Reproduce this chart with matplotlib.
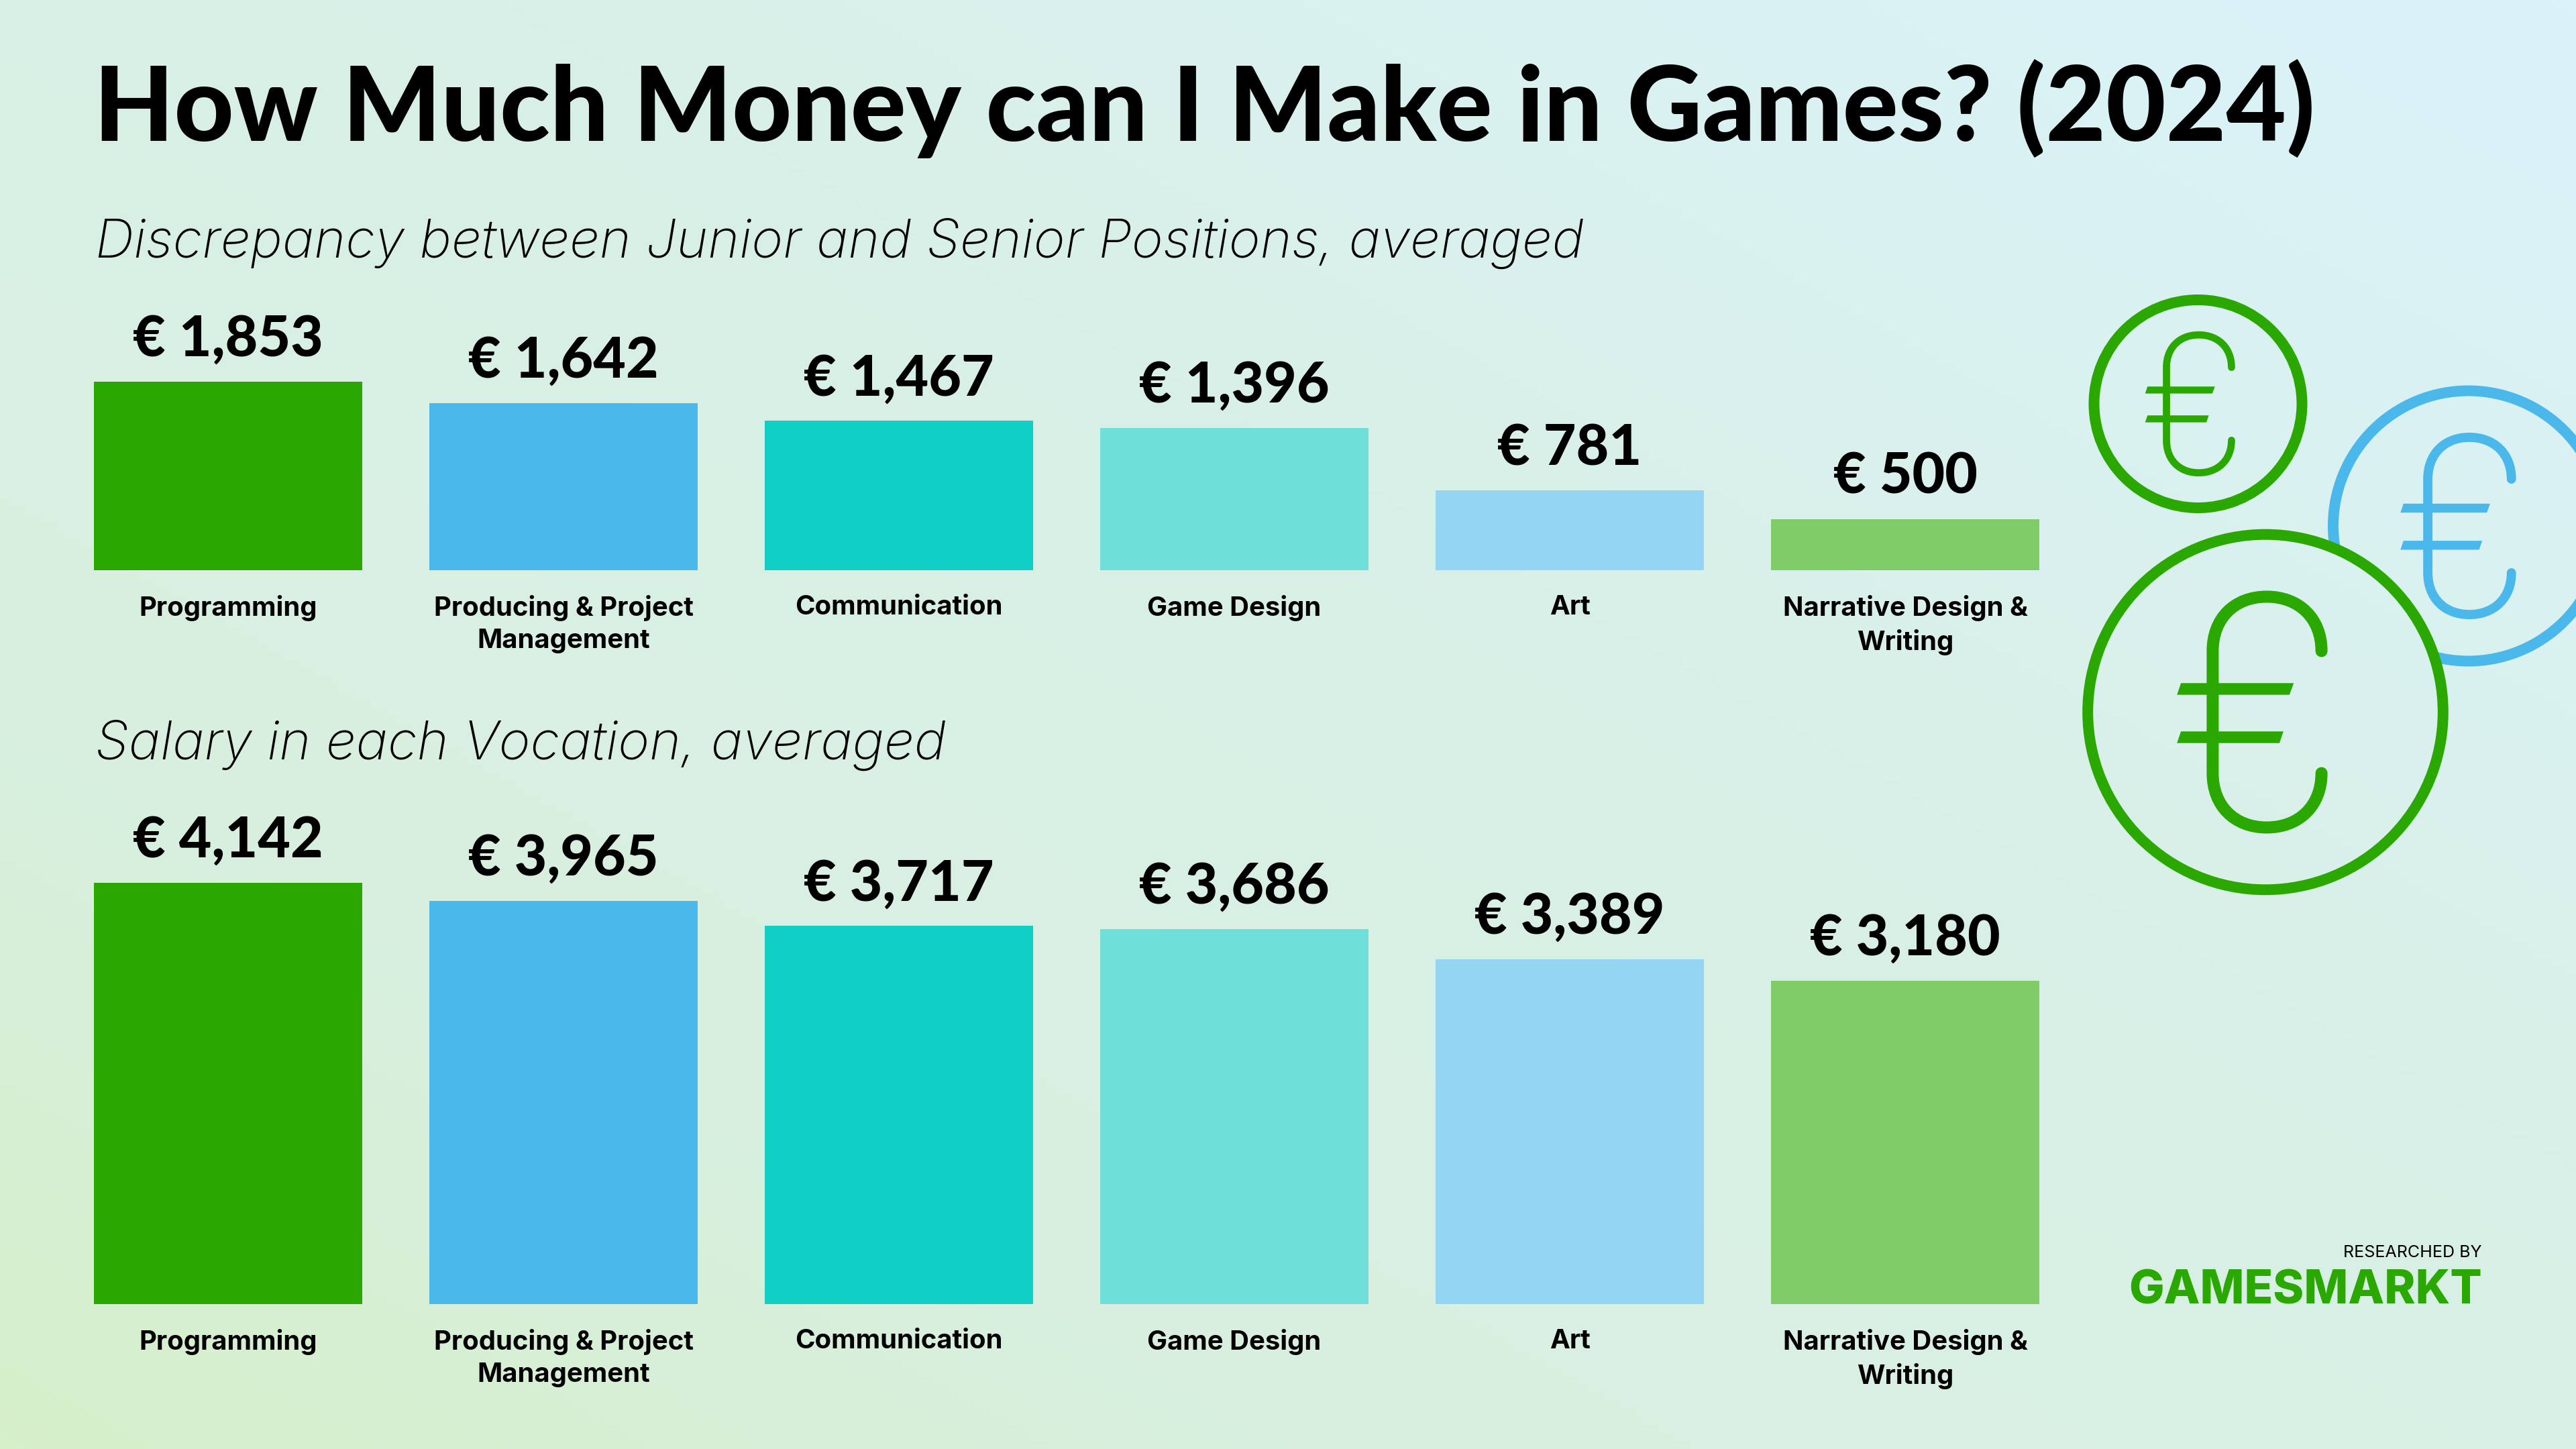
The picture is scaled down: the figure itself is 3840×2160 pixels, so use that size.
import numpy as np
import matplotlib
matplotlib.use('Agg')
import matplotlib.pyplot as plt
from matplotlib.colors import LinearSegmentedColormap
from matplotlib.patches import Circle, PathPatch, Polygon
from matplotlib.path import Path

categories = ['Programming', 'Producing & Project\nManagement', 'Communication',
              'Game Design', 'Art', 'Narrative Design &\nWriting']
discrepancy = [1853, 1642, 1467, 1396, 781, 500]
salary = [4142, 3965, 3717, 3686, 3389, 3180]
bar_colors = ['#2BA800', '#4AB8EA', '#10CFC4', '#6FE0D9', '#93D5F2', '#80CC68']

W, H, DPI = 3840, 2160, 200
PT = 72 / DPI  # points per pixel
PX_PER_EURO = 0.1515
GREEN = '#2BA800'
BLUE = '#4AB8EA'

plt.rcParams['font.family'] = ['Lato', 'DejaVu Sans']

fig = plt.figure(figsize=(W / DPI, H / DPI), dpi=DPI)

# background, pixel coordinates
bg = fig.add_axes([0, 0, 1, 1])
bg.set_xlim(0, W)
bg.set_ylim(H, 0)
bg.axis('off')
xx, yy = np.meshgrid(np.linspace(0, 1, 320), np.linspace(0, 1, 180))
grad = (xx + (1 - yy)) / 2
cmap = LinearSegmentedColormap.from_list(
    'bg', [(0, '#D6F0CA'), (0.25, '#D8EFDF'), (0.6, '#D9F0E8'), (1, '#DAF3FA')])
extent = (0, W, H, 0)
bg.imshow(grad, cmap=cmap, vmin=0, vmax=1, extent=extent, aspect='auto', zorder=0)


def draw_euro(ax, cx, cy, k, color, zorder):
    # offsets measured on the big coin, k scales to the other coins
    def p(x, y):
        return (cx + x * k, cy + y * k)
    verts = [p(83.6, -91), p(83.6, -140), p(50, -172), p(2, -172),
             p(-46, -172), p(-78.6, -140), p(-78.6, -91),
             p(-78.6, 91),
             p(-78.6, 140), p(-46, 172), p(2, 172),
             p(50, 172), p(83.6, 140), p(83.6, 91)]
    codes = [Path.MOVETO] + [Path.CURVE4] * 6 + [Path.LINETO] + [Path.CURVE4] * 6
    ax.add_patch(PathPatch(Path(verts, codes), fill=False, edgecolor=color,
                           lw=18 * k * PT, capstyle='round', zorder=zorder))
    for top, bot, tr, br in [(-43.2, -25.8, 42.3, 35.8), (28.8, 46.2, 26.9, 20.9)]:
        ax.add_patch(Polygon([p(-125.9, top), p(tr, top), p(br, bot), p(-131.8, bot)],
                             closed=True, facecolor=color, edgecolor='none', zorder=zorder))


def draw_coin(ax, cx, cy, r, color, zorder):
    ax.add_patch(Circle((cx, cy), r - 8, fill=False, edgecolor=color,
                        lw=16 * PT, zorder=zorder))
    draw_euro(ax, cx, cy, r / 272.8, color, zorder)


draw_coin(bg, 3276.5, 602, 163, GREEN, 2)
draw_coin(bg, 3679.5, 784, 209.5, BLUE, 2)
# big coin hides what is behind it
cover = bg.imshow(grad, cmap=cmap, vmin=0, vmax=1, extent=extent, aspect='auto', zorder=3)
cover.set_clip_path(Circle((3377, 1061.5), 268, transform=bg.transData))
draw_coin(bg, 3377, 1061.5, 272.8, GREEN, 4)
bg.set_xlim(0, W)
bg.set_ylim(H, 0)

# headings
bg.text(140, 210, 'How Much Money can I Make in Games? (2024)', fontsize=154.6 * PT,
        fontweight='black', va='baseline', ha='left', color='black')
bg.text(142, 384, 'Discrepancy between Junior and Senior Positions, averaged',
        family='Inter', fontsize=80 * PT,
        fontweight='light', fontstyle='italic', va='baseline', color='black')
bg.text(142, 1132, 'Salary in each Vocation, averaged',
        family='Inter', fontsize=80 * PT,
        fontweight='light', fontstyle='italic', va='baseline', color='black')

# logo
bg.text(3700, 1874, 'RESEARCHED BY', family='Inter', fontsize=25 * PT, ha='right', va='baseline')
bg.text(3700, 1944, 'GAMESMARKT', family='Inter', fontsize=70 * PT, fontweight='extra bold',
        color=GREEN, ha='right', va='baseline')


def bar_panel(values, base_px):
    top = max(values)
    height_px = top * PX_PER_EURO
    ax = fig.add_axes([140 / W, 1 - base_px / H, 2900 / W, height_px / H])
    ax.patch.set_alpha(0)
    ax.bar(range(len(values)), values, width=0.8, color=bar_colors)
    ax.set_xlim(-0.4, 5.4)
    ax.set_ylim(0, top)
    ax.set_yticks([])
    ax.set_xticks(range(len(categories)))
    ax.set_xticklabels(categories, family='Inter', fontsize=40 * PT, fontweight='bold',
                       linespacing=1.36)
    ax.tick_params(axis='x', length=0, pad=38 * PT)
    for s in ax.spines.values():
        s.set_visible(False)
    for i, v in enumerate(values):
        ax.annotate(f'€ {v:,}', (i, v), xytext=(0, 38 * PT), textcoords='offset points',
                    ha='center', va='baseline', fontsize=84 * PT, fontweight='black',
                    annotation_clip=False)
    return ax


bar_panel(discrepancy, 849.5)
bar_panel(salary, 1943.5)

fig.savefig('out.png', dpi=DPI)
